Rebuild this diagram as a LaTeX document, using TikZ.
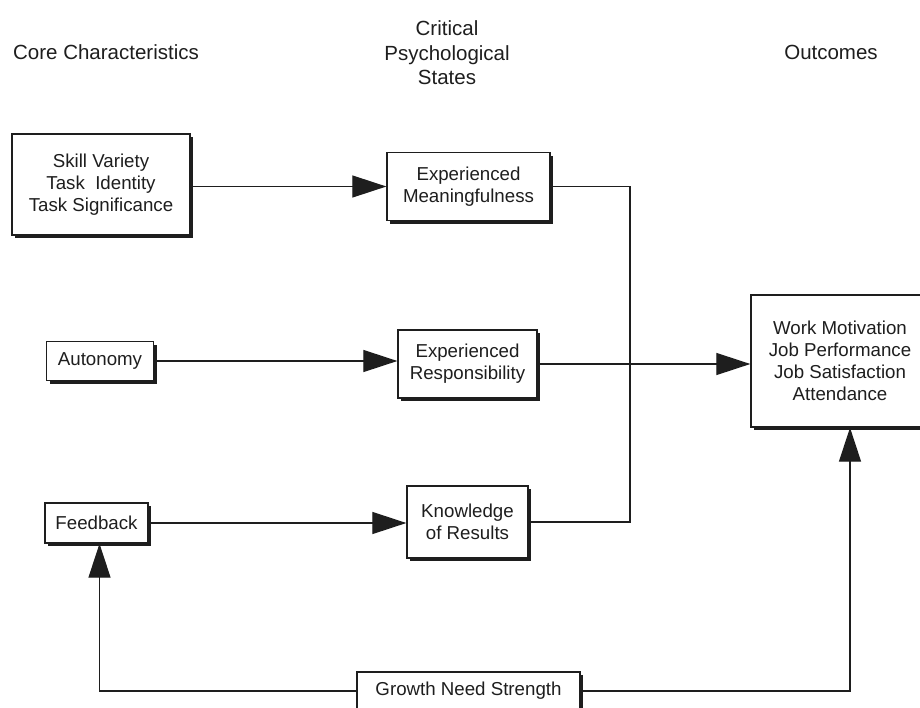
\documentclass[tikz,border=0pt]{standalone}
\usepackage{fontspec}
\setmainfont{Liberation Sans}
\usetikzlibrary{arrows.meta,shadows}
\definecolor{ink}{HTML}{1E1E1E}
\begin{document}
\begin{tikzpicture}[x=1pt,y=-1pt,
  every node/.style={text=ink},
  box/.style={draw=ink, line width=1.3pt, fill=white, align=center, inner sep=0pt,
    font=\fontsize{18.7}{22}\selectfont,
    drop shadow={shadow xshift=3pt, shadow yshift=-3pt, fill=ink, opacity=1}},
  head/.style={align=center, font=\fontsize{20.5}{24.5}\selectfont},
  conn/.style={draw=ink, line width=1.2pt},
  arr/.style={conn, -{Triangle[length=34pt,width=22pt]}}
]
\useasboundingbox[fill=white] (0,0) rectangle (920,707);

% headers
\node[head] (h1) at (106,52) {Core Characteristics};
\node[head] (h2) at (447,53) {Critical\\Psychological\\States};
\node[head] (h3) at (831,52) {Outcomes};

% boxes
\node[box, minimum width=178pt, minimum height=101pt] (cc) at (101,184.5) {Skill Variety\\Task\ \ Identity\\Task Significance};
\node[box, minimum width=163pt, minimum height=68pt] (em) at (468.5,186.5) {Experienced\\Meaningfulness};
\node[box, minimum width=107pt, minimum height=39pt] (aut) at (100,361) {Autonomy};
\node[box, minimum width=139pt, minimum height=68pt] (er) at (467.5,364) {Experienced\\Responsibility};
\node[box, minimum width=103pt, minimum height=40pt] (fb) at (96.5,523) {Feedback};
\node[box, minimum width=121pt, minimum height=72pt] (kr) at (467.5,522) {Knowledge\\of Results};
\node[box, minimum width=178pt, minimum height=132pt] (out) at (840,361) {Work Motivation\\Job Performance\\Job Satisfaction\\Attendance};
\node[box, minimum width=223pt, minimum height=38pt] (gns) at (468.5,691) {Growth Need Strength};

\coordinate (jn) at (630,363);

% connectors
\draw[arr] (cc.east |- em.west) -- (em.west);
\draw[arr] (aut.east) -- (er.west |- aut.east);
\draw[arr] (fb.east) -- (kr.west |- fb.east);
\draw[conn] (em.east) -| (jn) |- (kr.east);
\draw[arr] (er.east) -- (out.west |- er.east);
\draw[arr] (gns.west) -| ([xshift=3pt]fb.south);
\draw[arr] (gns.east) -| ([xshift=10pt]out.south);
\end{tikzpicture}
\end{document}
